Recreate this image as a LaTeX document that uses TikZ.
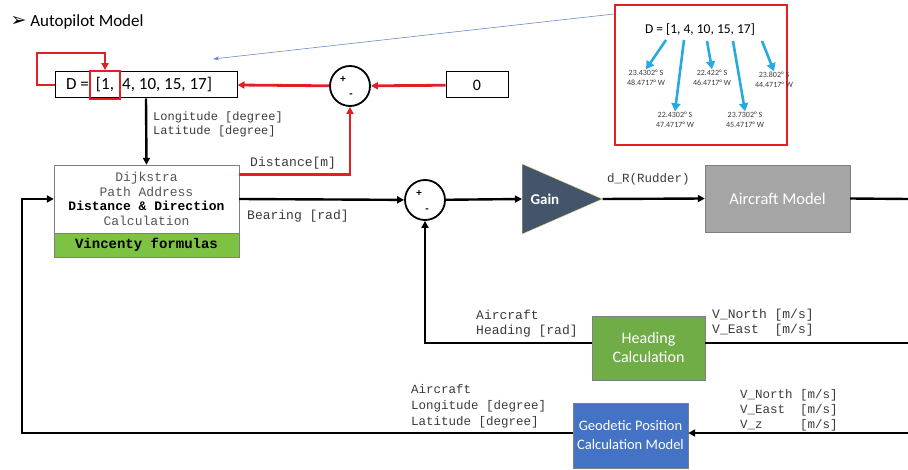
\documentclass[tikz,border=0pt]{standalone}
\usepackage{fontspec}
\setmainfont{Carlito}
\setmonofont{Liberation Mono}
\newfontfamily\dingfont{DejaVu Sans}
\usepackage{tikz}
\usetikzlibrary{shapes.geometric,arrows.meta}

\definecolor{sigred}{HTML}{E31E24}
\definecolor{gainnavy}{HTML}{44546A}
\definecolor{acgray}{HTML}{A5A5A5}
\definecolor{hdggreen}{HTML}{70AD47}
\definecolor{vingreen}{HTML}{7DC243}
\definecolor{geoblue}{HTML}{4472C4}
\definecolor{wpcyan}{HTML}{27AAE1}
\definecolor{linkblue}{HTML}{6A8CC8}
\definecolor{labgray}{HTML}{3A3A3A}
\definecolor{dijgray}{HTML}{555555}

\begin{document}
\begin{tikzpicture}[x=1pt,y=-1pt,
    sig/.style={draw=black, line width=2.4pt},
    redsig/.style={draw=sigred, line width=2.8pt},
    tip/.style={-{Triangle[length=7pt,width=7pt]}},
    sumnode/.style={circle, draw, line width=1.8pt, minimum size=40pt, inner sep=0pt},
    sign/.style={font=\bfseries\fontsize{11}{11}\selectfont, inner sep=0pt},
    lbl/.style={font=\ttfamily\fontsize{13}{15}\selectfont, text=labgray, align=left, inner sep=0pt},
    wpt/.style={font=\fontsize{8}{9.5}\selectfont, text=labgray, align=center, inner sep=1pt},
    wparrow/.style={draw=wpcyan, line width=2.6pt, -{Triangle[length=8pt,width=9pt]}}]
\useasboundingbox (0,0) rectangle (908,470);

% title
\node[anchor=west, font=\fontsize{17}{17}\selectfont] (title) at (7,22) {{\dingfont\fontsize{19}{19}\selectfont ➢}\ Autopilot Model};

% waypoint vector and outer loop
\node[draw, line width=1pt, minimum width=182pt, minimum height=26pt] (dvec) at (146,85) {};
\node[anchor=base, draw=sigred, line width=1.8pt, minimum width=30pt, minimum height=28pt, inner sep=2pt,
      font=\fontsize{17}{17}\selectfont] (first) at (105,90) {[1,};
\node[anchor=base east, inner sep=0pt, font=\fontsize{17}{17}\selectfont] (dlhs) at (89,90) {D =};
\node[anchor=base west, inner sep=0pt, font=\fontsize{17}{17}\selectfont] (drest) at (122,90) {4, 10, 15, 17]};
\draw[redsig,tip] (dvec.west) -| (37,53) -| (first.north);

\node[sumnode] (sum1) at (350,86) {};
\node[sign] (sum1p) at (343,79) {+};
\node[sign] (sum1m) at (351,96) {-};
\node[draw, line width=1pt, minimum width=62pt, minimum height=26pt, font=\fontsize{16}{16}\selectfont] (zero) at (477,85) {0};
\draw[redsig,tip] (zero) -- (sum1);
\draw[redsig,tip] (sum1) -- (dvec.east);

% path and direction block
\node[draw=gray, minimum width=185pt, minimum height=68pt, inner sep=0pt, align=center, text=dijgray,
      font=\ttfamily\fontsize{13}{14.7}\selectfont] (dijk) at (146.5,199)
      {Dijkstra\\Path Address\\{\bfseries\color{black}Distance \& Direction}\\Calculation};
\node[draw=gray, fill=vingreen, minimum width=185pt, minimum height=24pt, inner sep=0pt,
      font=\ttfamily\bfseries\fontsize{14}{14}\selectfont] (vinc) at (146.5,245) {Vincenty formulas};
\draw[sig,tip] (dvec.south) -- (dijk.north);
\node[lbl, anchor=north west, font=\ttfamily\fontsize{12}{13.5}\selectfont] (lonlat) at (153,112) {Longitude [degree]\\Latitude [degree]};

\draw[redsig,tip] ([yshift=-10pt]dijk.north east) -| (sum1.south);
\node[lbl, anchor=base west] (distlbl) at (250,167) {Distance[m]};

% inner loop
\node[sumnode] (sum2) at (425,200) {};
\node[sign] (sum2p) at (419,193) {+};
\node[sign] (sum2m) at (427,211) {-};
\draw[sig,tip] (dijk.east) -- (sum2);
\node[lbl, anchor=base west] (bearlbl) at (247,220) {Bearing [rad]};

\node[isosceles triangle, isosceles triangle stretches, minimum width=70pt, minimum height=80pt,
      fill=gainnavy, draw=gainnavy!40!yellow!60!white, inner sep=0pt, anchor=west, text=white,
      font=\bfseries\fontsize{15}{15}\selectfont] (gain) at (522,199) {Gain\hspace*{10pt}};
\draw[sig,tip] (sum2) -- (gain.west);

\node[draw=gray, fill=acgray, minimum width=145pt, minimum height=67pt, text=white,
      font=\fontsize{16.5}{16.5}\selectfont] (acm) at (777.5,198.5) {Aircraft Model};
\draw[sig,tip] (gain.east) -- (acm.west);
\node[lbl, anchor=base west, font=\ttfamily\fontsize{12.5}{13}\selectfont] (rudlbl) at (607,183) {d\_R(Rudder)};
\coordinate (acout) at (908,199);
\draw[sig] (acm.east) -- (acout);

% heading feedback
\node[draw=gray, fill=hdggreen, minimum width=113pt, minimum height=64pt, align=center, text=white,
      font=\fontsize{16}{19}\selectfont] (hdg) at (648.5,348) {Heading\\Calculation};
\coordinate (hdgin) at (908,343);
\draw[sig] (hdgin) -- (hdgin -| hdg.east);
\draw[sig,tip] (hdgin -| hdg.west) -| (sum2.south);
\node[lbl, anchor=north west] (hdglbl) at (476,310) {Aircraft\\Heading [rad]};
\node[lbl, anchor=north west] (vnelbl) at (712,309) {V\_North [m/s]\\V\_East\ \ [m/s]};

% position feedback
\node[draw=gray, fill=geoblue, minimum width=115pt, minimum height=65pt, align=center, text=white,
      font=\fontsize{14.5}{19}\selectfont] (geo) at (630.5,435.5) {Geodetic Position\\Calculation Model};
\coordinate (geoin) at (908,433);
\draw[sig,tip] (geoin) -- (geoin -| geo.east);
\draw[sig,tip] (geoin -| geo.west) -- (22,433) |- (dijk.west);
\node[lbl, anchor=north west, font=\ttfamily\fontsize{12.5}{16}\selectfont] (poslbl) at (411,384) {Aircraft\\Longitude [degree]\\Latitude [degree]};
\node[lbl, anchor=north west, font=\ttfamily\fontsize{12.5}{15}\selectfont] (vnezlbl) at (740,389) {V\_North [m/s]\\V\_East\ \ [m/s]\\V\_z\ \ \ \ \ [m/s]};

% waypoint coordinates
\node[draw=sigred, line width=2pt, minimum width=172pt, minimum height=140pt] (zoombox) at (701,75) {};
\node[font=\fontsize{13.5}{13.5}\selectfont, inner sep=0pt] (dlist) at (700,30) {D = [1, 4, 10, 15, 17]};
\node[wpt] (wp1) at (646,78) {23.4302° S\\48.4717° W};
\node[wpt] (wp4) at (675,120) {22.4302° S\\47.4717° W};
\node[wpt] (wp10) at (712,78) {22.422° S\\46.4717° W};
\node[wpt] (wp15) at (745,120) {23.7302° S\\45.4717° W};
\node[wpt] (wp17) at (774,80) {23.802° S\\44.4717° W};
\draw[wparrow] (666,40) -- (wp1.north);
\draw[wparrow] (684,40) -- (wp4.north);
\draw[wparrow] (707,41) -- (wp10.north);
\draw[wparrow] (733,41) -- (wp15.north);
\draw[wparrow] (762,41) -- (wp17.north);

\coordinate (linkend) at (213,59);
\draw[draw=linkblue, line width=0.6pt, -{Stealth[length=6pt,width=4pt]}] ([yshift=-10pt]zoombox.north west) -- (linkend);
\end{tikzpicture}
\end{document}
